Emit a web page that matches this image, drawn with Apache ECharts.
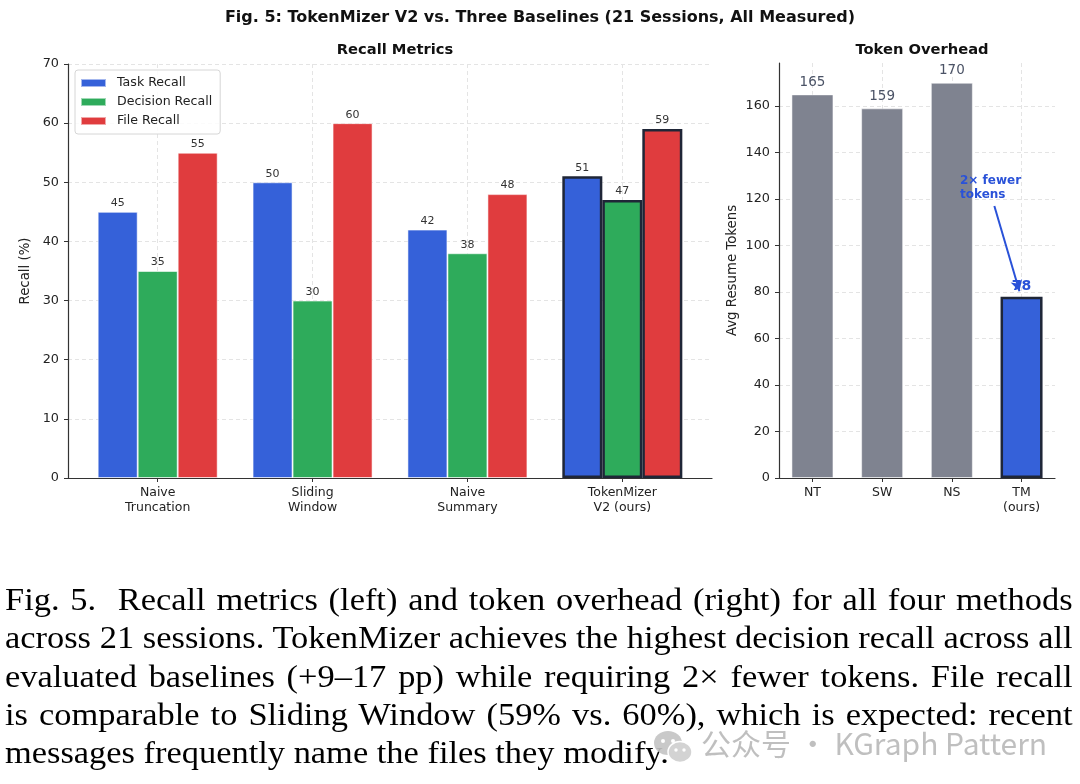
<!DOCTYPE html>
<html>
<head>
<meta charset="utf-8">
<script src="https://cdn.jsdelivr.net/npm/echarts@6/dist/echarts.min.js"></script>
<style>
  body { margin: 0; background: #fff; }
  #wrap { position: relative; width: 1080px; height: 784px; overflow: hidden; }
  #chart { position: absolute; left: 0; top: 0; width: 1080px; height: 784px; }
  #caption { position: absolute; left: 5px; top: 581px; width: 949px;
    transform: scaleX(1.125); transform-origin: 0 0;
    font-family: "Liberation Serif", "DejaVu Serif", serif; font-size: 30.6px; line-height: 38.3px; color: #000; }
  #caption div { text-align: justify; text-align-last: justify; white-space: nowrap; }
  #caption div.last { text-align-last: left; }
  #mark { position: absolute; left: 653px; top: 720px; color: #b9b9b9; opacity: 0.9;
    font-family: "Noto Sans CJK SC", "Noto Sans", sans-serif; font-size: 30px; white-space: nowrap; }
  #mark svg { vertical-align: middle; margin-right: 8px; }
</style>
</head>
<body>
<div id="wrap">
  <div id="chart"></div>
  <div id="caption">
    <div>Fig. 5.&nbsp; Recall metrics (left) and token overhead (right) for all four methods</div>
    <div>across 21 sessions. TokenMizer achieves the highest decision recall across all</div>
    <div>evaluated baselines (+9–17 pp) while requiring 2× fewer tokens. File recall</div>
    <div>is comparable to Sliding Window (59% vs. 60%), which is expected: recent</div>
    <div class="last">messages frequently name the files they modify.</div>
  </div>
  <div id="mark"><svg width="40" height="34" viewBox="0 0 40 34">
      <ellipse cx="15" cy="13" rx="14" ry="12" fill="#c4c4c4"/>
      <circle cx="10" cy="11" r="2" fill="#fff"/><circle cx="20" cy="11" r="2" fill="#fff"/>
      <ellipse cx="27" cy="22" rx="12" ry="10.5" fill="#cfcfcf" stroke="#fff" stroke-width="1.5"/>
      <circle cx="23" cy="20" r="1.7" fill="#fff"/><circle cx="31" cy="20" r="1.7" fill="#fff"/>
    </svg>公众号 · KGraph Pattern</div>
</div>
<script>
// recall chart
const methods = ['Naive\nTruncation', 'Sliding\nWindow', 'Naive\nSummary', 'TokenMizer\nV2 (ours)']
const taskRecall = [45, 50, 42, 51]
const decisionRecall = [35, 30, 38, 47]
const fileRecall = [55, 60, 48, 59]
const recallNames = ['Task Recall', 'Decision Recall', 'File Recall']
const recallColors = ['#3561d9', '#2eab5b', '#e03c3e']
const recallTicks = [0, 10, 20, 30, 40, 50, 60, 70]

// token chart
const shortNames = ['NT', 'SW', 'NS', 'TM\n(ours)']
const resumeTokens = [165, 159, 170, 78]
const tokenTicks = [0, 20, 40, 60, 80, 100, 120, 140, 160]

const OURS = 3
const FONT = 'DejaVu Sans'
const EDGE = '#1f2637'
const ANNO = '#2a52d8'

const chart = echarts.init(document.getElementById('chart'))

function xAxisFor(grid, min, max, names) {
  const idx = names.map((n, i) => i)
  return {
    gridIndex: grid, type: 'value', min: min, max: max,
    axisLine: { show: true, onZero: false, lineStyle: { color: '#333', width: 1.2 } },
    axisTick: { show: true, customValues: idx, length: 4, lineStyle: { color: '#333' } },
    axisLabel: { customValues: idx, formatter: v => names[Math.round(v)], color: '#222',
      fontFamily: FONT, fontSize: 12.5, lineHeight: 15, margin: 7 },
    splitLine: { show: true, lineStyle: { type: [4, 3], color: '#e4e4e4' } }
  }
}

function yAxisFor(grid, max, ticks, name, gap) {
  return {
    gridIndex: grid, type: 'value', min: 0, max: max, interval: ticks[1] - ticks[0],
    name: name, nameLocation: 'middle', nameGap: gap,
    nameTextStyle: { fontFamily: FONT, fontSize: 13.3, color: '#222' },
    axisLine: { show: true, onZero: false, lineStyle: { color: '#333', width: 1.2 } },
    axisTick: { show: true, customValues: ticks, length: 4, lineStyle: { color: '#333' } },
    axisLabel: { customValues: ticks, color: '#222', fontFamily: FONT, fontSize: 12.8, margin: 9 },
    splitLine: { show: true, lineStyle: { type: [4, 3], color: '#e4e4e4' } }
  }
}

const recallSeries = [taskRecall, decisionRecall, fileRecall].map((vals, s) => ({
  name: recallNames[s], type: 'bar', xAxisIndex: 0, yAxisIndex: 0,
  barWidth: 40, barGap: '0%',
  itemStyle: { color: recallColors[s], borderColor: 'rgba(255,255,255,0.55)', borderWidth: 1 },
  label: { show: true, position: 'top', distance: 3, color: '#333', fontFamily: FONT, fontSize: 11 },
  data: vals.map((v, i) => i === OURS
    ? { value: [i, v], itemStyle: { borderColor: EDGE, borderWidth: 2.5 }, z: 3 }
    : { value: [i, v] }),
  z: 2
}))

const tokenSeries = {
  type: 'bar', xAxisIndex: 1, yAxisIndex: 1, barWidth: 42,
  itemStyle: { color: '#7f8390', borderColor: 'rgba(255,255,255,0.5)', borderWidth: 1 },
  label: { show: true, position: 'top', distance: 5, color: '#4b5366', fontFamily: FONT, fontSize: 13.5 },
  data: resumeTokens.map((v, i) => i === OURS
    ? { value: [i, v], itemStyle: { color: '#3561d9', borderColor: EDGE, borderWidth: 2.5 },
        label: { color: ANNO, fontWeight: 'bold', fontSize: 14, distance: 3 } }
    : { value: [i, v] }),
  markLine: {
    silent: true, symbol: ['none', 'arrow'], symbolSize: [9, 11],
    label: { show: false },
    lineStyle: { color: ANNO, width: 2, type: 'solid' },
    data: [[{ coord: [2.61, 117] }, { coord: [2.97, 80.3] }]]
  },
  markPoint: {
    silent: true, symbol: 'rect', symbolSize: 1, itemStyle: { color: 'rgba(0,0,0,0)' },
    label: { show: true, position: 'right', distance: 0, formatter: '2× fewer\ntokens',
      color: ANNO, fontFamily: FONT, fontWeight: 'bold', fontSize: 12, lineHeight: 14, align: 'left' },
    data: [{ coord: [2.11, 125] }]
  }
}

chart.setOption({
  animation: false,
  backgroundColor: '#fff',
  title: [
    { text: 'Fig. 5: TokenMizer V2 vs. Three Baselines (21 Sessions, All Measured)', left: 535, top: 5,
      textAlign: 'center', textStyle: { fontFamily: FONT, fontWeight: 'bold', fontSize: 16, color: '#111' } },
    { text: 'Recall Metrics', left: 390, top: 38, textAlign: 'center',
      textStyle: { fontFamily: FONT, fontWeight: 'bold', fontSize: 14.7, color: '#111' } },
    { text: 'Token Overhead', left: 917, top: 38, textAlign: 'center',
      textStyle: { fontFamily: FONT, fontWeight: 'bold', fontSize: 14.7, color: '#111' } }
  ],
  legend: {
    left: 75, top: 70, orient: 'vertical', icon: 'rect', itemWidth: 25, itemHeight: 8, itemGap: 5,
    padding: [6, 8, 6, 5], borderColor: '#d6d6d6', borderWidth: 1, borderRadius: 3,
    backgroundColor: 'rgba(255,255,255,0.85)',
    textStyle: { fontFamily: FONT, fontSize: 12.6, color: '#222', lineHeight: 14, padding: [0, 0, 0, 6] },
    data: recallNames
  },
  grid: [
    { left: 68, right: 368, top: 64, bottom: 306 },
    { left: 779, right: 25, top: 63, bottom: 306 }
  ],
  xAxis: [
    xAxisFor(0, -0.579, 3.579, methods),
    xAxisFor(1, -0.48, 3.48, shortNames)
  ],
  yAxis: [
    yAxisFor(0, 70, recallTicks, 'Recall (%)', 32),
    yAxisFor(1, 178.5, tokenTicks, 'Avg Resume Tokens', 40)
  ],
  series: recallSeries.concat([tokenSeries])
})
</script>
</body>
</html>
